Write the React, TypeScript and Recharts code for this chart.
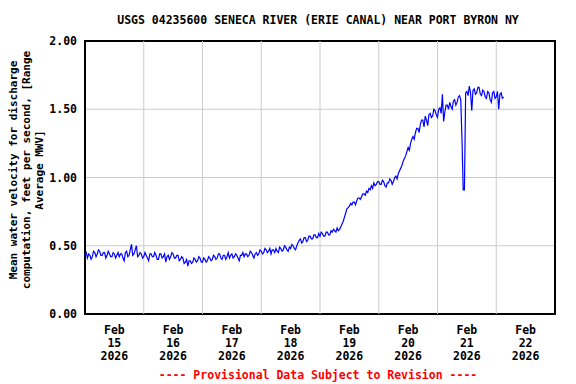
import React from 'react';
import { LineChart, Line, XAxis, YAxis, CartesianGrid, ReferenceLine, ReferenceArea } from 'recharts';

const titleText = 'USGS 04235600 SENECA RIVER (ERIE CANAL) NEAR PORT BYRON NY';
const yLabelLines = ['Mean water velocity for discharge', 'computation, feet per second, [Range', 'Average MWV]'];
const footerText = '---- Provisional Data Subject to Revision ----';
const monthLabel = 'Feb';
const yearLabel = '2026';
const dayLabels = ['15', '16', '17', '18', '19', '20', '21', '22'];
const yTicks = [0, 0.5, 1, 1.5, 2];

// half-hourly mean water velocity (ft/s), starting Feb 15 00:00
const velocity = [
  // Feb 15
  0.43, 0.45, 0.41, 0.44, 0.43, 0.40, 0.42, 0.46, 0.45, 0.42, 0.44, 0.47,
  0.46, 0.43, 0.43, 0.45, 0.45, 0.41, 0.43, 0.46, 0.44, 0.42, 0.42, 0.45,
  0.44, 0.41, 0.43, 0.45, 0.42, 0.44, 0.44, 0.41, 0.39, 0.45, 0.46, 0.42,
  0.43, 0.47, 0.51, 0.43, 0.44, 0.47, 0.50, 0.42, 0.43, 0.45, 0.44, 0.41,
  // Feb 16
  0.42, 0.45, 0.43, 0.41, 0.39, 0.44, 0.44, 0.42, 0.42, 0.45, 0.43, 0.40,
  0.40, 0.44, 0.44, 0.41, 0.42, 0.44, 0.38, 0.42, 0.43, 0.40, 0.42, 0.45,
  0.44, 0.41, 0.41, 0.43, 0.43, 0.39, 0.40, 0.42, 0.41, 0.37, 0.38, 0.40,
  0.35, 0.39, 0.39, 0.37, 0.38, 0.41, 0.40, 0.38, 0.39, 0.42, 0.41, 0.38,
  // Feb 17
  0.38, 0.41, 0.40, 0.38, 0.39, 0.42, 0.41, 0.39, 0.40, 0.43, 0.42, 0.40,
  0.41, 0.44, 0.44, 0.41, 0.40, 0.43, 0.43, 0.40, 0.42, 0.45, 0.41, 0.43,
  0.44, 0.41, 0.42, 0.44, 0.43, 0.41, 0.39, 0.43, 0.43, 0.45, 0.42, 0.44,
  0.44, 0.42, 0.43, 0.46, 0.45, 0.43, 0.41, 0.44, 0.45, 0.43, 0.44, 0.47,
  // Feb 18
  0.46, 0.44, 0.45, 0.48, 0.47, 0.45, 0.46, 0.48, 0.44, 0.47, 0.47, 0.45,
  0.48, 0.46, 0.45, 0.49, 0.48, 0.46, 0.47, 0.50, 0.49, 0.47, 0.46, 0.49,
  0.48, 0.51, 0.50, 0.48, 0.47, 0.50, 0.52, 0.54, 0.55, 0.52, 0.53, 0.56,
  0.56, 0.53, 0.54, 0.57, 0.57, 0.55, 0.55, 0.58, 0.58, 0.56, 0.56, 0.59,
  // Feb 19
  0.57, 0.60, 0.59, 0.57, 0.57, 0.60, 0.60, 0.58, 0.58, 0.61, 0.60, 0.62,
  0.61, 0.60, 0.63, 0.61, 0.62, 0.64, 0.66, 0.68, 0.71, 0.74, 0.77, 0.78,
  0.79, 0.81, 0.80, 0.82, 0.82, 0.80, 0.83, 0.85, 0.85, 0.84, 0.86, 0.88,
  0.88, 0.87, 0.90, 0.89, 0.92, 0.91, 0.94, 0.92, 0.96, 0.94, 0.95, 0.97,
  // Feb 20
  0.97, 0.95, 0.95, 0.98, 0.97, 0.94, 0.93, 0.96, 0.96, 0.99, 0.98, 0.95,
  0.97, 1.00, 1.01, 0.99, 1.03, 1.05, 1.07, 1.09, 1.12, 1.14, 1.16, 1.19,
  1.22, 1.20, 1.25, 1.28, 1.30, 1.28, 1.33, 1.36, 1.36, 1.33, 1.39, 1.42,
  1.42, 1.37, 1.45, 1.42, 1.38, 1.46, 1.47, 1.44, 1.45, 1.50, 1.49, 1.46,
  // Feb 21
  1.44, 1.50, 1.51, 1.47, 1.61, 1.41, 1.48, 1.53, 1.53, 1.50, 1.55, 1.52,
  1.50, 1.56, 1.57, 1.53, 1.55, 1.59, 1.60, 1.57, 1.28, 0.91, 0.91, 1.62,
  1.63, 1.60, 1.67, 1.62, 1.49, 1.64, 1.65, 1.61, 1.62, 1.66, 1.66, 1.61,
  1.60, 1.64, 1.63, 1.59, 1.58, 1.63, 1.62, 1.57, 1.55, 1.62, 1.63, 1.58,
  // Feb 22
  1.59, 1.63, 1.50, 1.61, 1.62, 1.58, 1.59,
];

const data = velocity.map((v, i) => ({ t: i / 2, v }));
const labelTicks = dayLabels.map((_, i) => i * 24 + 12);
const midnightLines = dayLabels.slice(1).map((_, i) => (i + 1) * 24);
const xMax = dayLabels.length * 24;

const FONT = '"DejaVu Sans Mono", monospace';

const XTick = (props: any) => {
  const { x, y, payload } = props;
  const idx = labelTicks.indexOf(payload.value);
  const day = idx >= 0 ? dayLabels[idx] : '';
  return (
    <g>
      <text x={x} y={y + 12} textAnchor="middle" fontFamily={FONT} fontWeight="bold" fontSize={11.5} fill="#000">{monthLabel}</text>
      <text x={x} y={y + 25} textAnchor="middle" fontFamily={FONT} fontWeight="bold" fontSize={11.5} fill="#000">{day}</text>
      <text x={x} y={y + 38} textAnchor="middle" fontFamily={FONT} fontWeight="bold" fontSize={11.5} fill="#000">{yearLabel}</text>
    </g>
  );
};

export default function App() {
  return (
    <div style={{ position: 'absolute', left: 0, top: 0, width: 576, height: 384, background: '#fff' }}>
      <LineChart width={576} height={384} data={data} margin={{ top: 41, right: 21, left: 25, bottom: 20 }}>
        <CartesianGrid vertical={false} stroke="#cccccc" strokeWidth={1} />
        {midnightLines.map((m) => (
          <ReferenceLine key={m} x={m} stroke="#cccccc" strokeWidth={1} />
        ))}
        <XAxis
          dataKey="t"
          type="number"
          domain={[0, xMax]}
          ticks={labelTicks}
          tick={<XTick />}
          tickLine={false}
          axisLine={false}
          height={50}
          interval={0}
        />
        <YAxis
          type="number"
          domain={[0, 2]}
          ticks={yTicks}
          tickFormatter={(v: number) => v.toFixed(2)}
          tick={{ fontFamily: FONT, fontWeight: 'bold', fontSize: 11.5, fill: '#000' }}
          tickLine={false}
          axisLine={false}
          width={60}
          interval={0}
        />
        <Line type="linear" dataKey="v" stroke="#0000ff" strokeWidth={1.2} dot={false} isAnimationActive={false} />
        <ReferenceArea x1={0} x2={xMax} y1={0} y2={2} fill="none" fillOpacity={0} stroke="#000" strokeWidth={2} />
      </LineChart>
      <svg width={576} height={384} style={{ position: 'absolute', left: 0, top: 0, pointerEvents: 'none' }}>
        <text x={318} y={24} textAnchor="middle" fontFamily={FONT} fontWeight="bold" fontSize={11.5} fill="#000">{titleText}</text>
        {yLabelLines.map((line, i) => (
          <text key={i} x={0} y={0} transform={`translate(${17 + i * 13}, 170) rotate(-90)`} textAnchor="middle" fontFamily={FONT} fontWeight="bold" fontSize={11} fill="#000">{line}</text>
        ))}
        <text x={318} y={379} textAnchor="middle" fontFamily={FONT} fontWeight="bold" fontSize={11.5} fill="#ff0000">{footerText}</text>
      </svg>
    </div>
  );
}
